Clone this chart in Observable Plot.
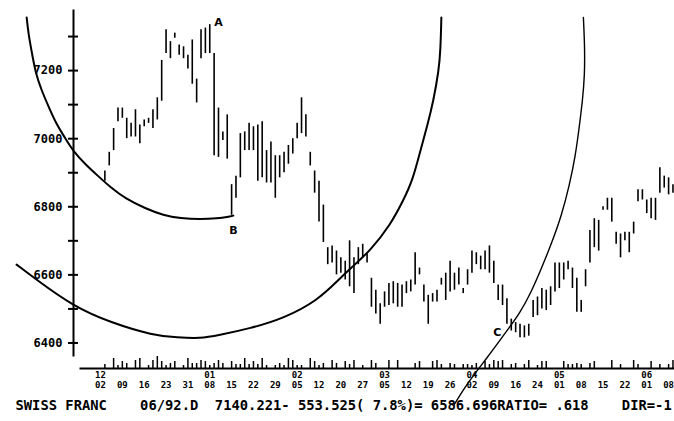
<!DOCTYPE html>
<html><head><meta charset="utf-8">
<script src="https://cdn.jsdelivr.net/npm/d3@7"></script>
<script src="https://cdn.jsdelivr.net/npm/@observablehq/plot@0.6"></script>
<style>
body{margin:0;background:#fff;}
svg text{white-space:pre;}
</style></head><body><div id="chart"></div>
<script>
// Daily bars, index = trading day (0 = Dec 02 1991)
const barHigh = [6905,6960,7030,7090,7090,7060,7045,7085,7040,7055,7060,7085,7120,7230,7320,7285,7310,7275,7270,7245,
  7290,7175,7320,7325,7335,7250,7090,7020,7070,6865,6890,7015,7020,7045,7035,7040,7050,6965,6990,6950,
  6950,6960,6980,7000,7045,7120,7070,6960,6905,6875,6805,6680,6685,6670,6650,6640,6700,6650,6680,6690,
  6665,6590,6555,6515,6550,6575,6580,6575,6570,6580,6585,6665,6620,6570,6540,6545,6555,6590,6605,6640,
  6605,6620,6560,6615,6670,6665,6655,6670,6685,6640,6570,6570,6530,6470,6460,6455,6450,6455,6525,6535,
  6560,6555,6565,6635,6635,6635,6640,6620,6590,6525,6615,6730,6765,6760,6800,6825,6825,6725,6720,6725,
  6725,6755,6850,6850,6820,6825,6825,6915,6890,6885,6865];
const barLow = [6875,6920,6965,7050,7060,7000,7005,7005,6985,7035,7045,7030,7055,7110,7250,7235,7295,7245,7235,7205,
  7160,7105,7235,7250,7250,6950,6945,6995,6940,6775,6825,6885,6965,6965,6965,6875,6885,6870,6870,6825,
  6885,6900,6925,6955,7000,7015,7005,6920,6840,6755,6695,6630,6635,6600,6605,6585,6565,6545,6630,6650,
  6635,6505,6485,6455,6505,6510,6515,6505,6505,6545,6550,6570,6600,6520,6455,6520,6520,6570,6525,6550,
  6555,6570,6545,6570,6605,6630,6615,6615,6605,6575,6525,6510,6455,6435,6430,6415,6415,6420,6475,6480,
  6500,6495,6510,6550,6560,6585,6615,6560,6490,6490,6565,6635,6680,6670,6790,6790,6755,6690,6650,6700,
  6665,6720,6815,6820,6780,6765,6760,6840,6855,6835,6840];
const firstBarIndex = 1;
// Volume (relative units), index 0..131
const volume = [0,4,0,10,3,7,5,0,8,10,0,3,8,12,7,3,5,7,0,3,
  10,5,5,8,7,3,5,8,5,0,7,4,4,10,4,7,4,10,3,0,
  3,5,3,10,8,3,3,0,10,7,3,5,0,8,5,0,7,4,8,0,
  3,0,8,5,0,0,8,0,8,0,0,0,5,7,0,0,7,8,4,0,
  5,4,0,4,4,3,5,0,7,4,8,7,8,0,4,5,0,4,8,0,
  3,7,7,0,0,0,7,4,4,5,4,0,5,7,0,0,0,8,0,4,
  0,0,8,4,0,0,7,0,4,0,4,8];
const dayLabels = ["02","09","16","23","31","08","15","22","29","05","12","20","27","05","12","19","26","02","09","16","24","01","08","15","22","01","08"];
const monthLabels = ["12","01","02","03","04","05","06"];
const monthTickIndex = [0,25,45,65,85,105,125];
const yMajor = [6400,6600,6800,7000,7200];
const yMinor = [6500,6700,6900,7100,7300];
// Fibonacci arcs: [day index, price]
const arc1 = [[-16.9,7356],[-16.5,7309],[-15.8,7259],[-14.9,7195],[-13.5,7142],[-11.9,7095],[-10.3,7048],[-8.2,7004],
  [-6.2,6962],[-3.4,6924],[-0.7,6892],[2.3,6857],[5.7,6824],[10.3,6795],[14.4,6775],[18.3,6766],[22.9,6763],
  [26.8,6766],[29.1,6770],[30.4,6774]];
const arc2 = [[-19.2,6630],[-15.3,6592],[-6.2,6507],[2.3,6460],[12.1,6422],[17.6,6416],[22.9,6413],[26.8,6422],[34.3,6443],
  [41.9,6472],[49.7,6525],[54.5,6586],[57.2,6619],[61.8,6672],[66.4,6748],[69.3,6819],[71.4,6877],[73.2,6965],[74.8,7039],
  [76.2,7112],[77.4,7200],[77.8,7259],[78.0,7356]];
const arc3 = [[110.5,7356],[110.8,7274],[110.8,7186],[110.3,7112],[109.6,7039],[108.7,6951],[107.3,6863],[105.5,6774],
  [103.2,6692],[100.9,6619],[98.4,6545],[95.9,6487],[93.4,6443],[90.9,6399],[88.3,6354],[86.0,6316],[83.5,6272],[80.8,6216]];
const pointLabels = ["A","B","C"];
const pointIndex = [27.0,30.4,90.8];
const pointPrice = [7341,6730,6431];
const caption = "SWISS FRANC    06/92.D  7140.221- 553.525( 7.8%)= 6586.696RATIO= .618    DIR=-1";

const bars = barHigh.map((h,k)=>({i:k+firstBarIndex, high:h, low:barLow[k]}));
const vols = volume.map((v,i)=>({i, v}));
const points = pointLabels.map((t,k)=>({t, i:pointIndex[k], p:pointPrice[k]}));
const yBottom = 6325, volUnit = 2.94;
const mono = "DejaVu Sans Mono";

const chart = Plot.plot({
  width: 674, height: 421,
  marginLeft: 73, marginRight: 0, marginTop: 2, marginBottom: 53,
  style: {background: "#fff", color: "#000"},
  x: {domain: [-6.18, 131.35]},
  y: {domain: [yBottom, 7400]},
  marks: [
    Plot.frame({anchor: "left", insetTop: 8, insetBottom: 13, strokeWidth: 2}),
    Plot.frame({anchor: "bottom", insetLeft: 7, strokeWidth: 2}),
    Plot.axisY({ticks: yMajor, tickFormat: d => String(d), tickSize: 10, dx: 5, tickPadding: 6, label: null, fontSize: 12, fontFamily: mono, fontWeight: "bold", strokeWidth: 2}),
    Plot.axisY({ticks: yMinor, tickSize: 10, dx: 5, tickFormat: () => "", label: null, strokeWidth: 2}),
    Plot.axisX({ticks: dayLabels.map((_,k)=>k*5), tickFormat: d => dayLabels[d/5], tickSize: 0, tickPadding: 13, label: null, fontSize: 9, fontFamily: mono, fontWeight: "bold"}),
    Plot.axisX({ticks: monthTickIndex, tickFormat: d => monthLabels[monthTickIndex.indexOf(d)], tickSize: 0, tickPadding: 3, label: null, fontSize: 9, fontFamily: mono, fontWeight: "bold"}),
    Plot.ruleX(vols.filter(d=>d.v>0), {x: "i", y1: yBottom, y2: d => yBottom + d.v*volUnit, strokeWidth: 1.5}),
    Plot.ruleX(bars, {x: "i", y1: "low", y2: "high", strokeWidth: 1.6}),
    Plot.line(arc1, {x: d=>d[0], y: d=>d[1], curve: "basis", strokeWidth: 2}),
    Plot.line(arc2, {x: d=>d[0], y: d=>d[1], curve: "basis", strokeWidth: 2}),
    Plot.line(arc3, {x: d=>d[0], y: d=>d[1], curve: "basis", strokeWidth: 1.4}),
    Plot.text(points, {x: "i", y: "p", text: "t", fontSize: 11, fontWeight: "bold", fontFamily: "DejaVu Sans"}),
    Plot.text([caption], {frameAnchor: "bottom-left", dx: -58, dy: 37, text: d => d, textAnchor: "start", lineAnchor: "middle", fontFamily: mono, fontWeight: "bold", fontSize: 13.8})
  ]
});
document.getElementById("chart").append(chart);
</script></body></html>
